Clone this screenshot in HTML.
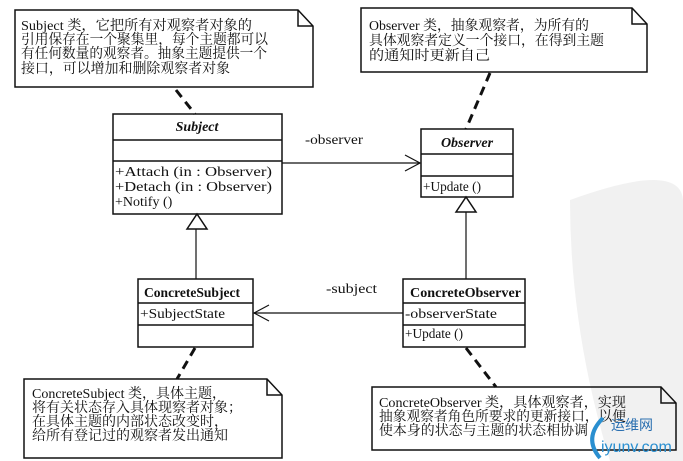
<!DOCTYPE html>
<html><head><meta charset="utf-8"><style>
html,body{margin:0;padding:0;background:#fff;}
svg{display:block;}
.cn{font-family:"Liberation Serif","Noto Serif CJK SC","Noto Sans CJK SC",serif;font-size:14px;fill:#111;}
.m{font-family:"Liberation Serif","Noto Serif CJK SC",serif;font-size:14px;fill:#111;}
.b{font-weight:bold;}
</style></head><body>
<svg width="683" height="461" viewBox="0 0 683 461" xmlns="http://www.w3.org/2000/svg">
<rect width="683" height="461" fill="#fff"/>
<path d="M570 200 Q680 160 683 200 L683 461 L610 461 Q570 330 570 200Z" fill="#f1f1f1"/>
<g fill="none" stroke="#111" stroke-width="1.5">
<path d="M15 10 H298 L313 26 V87 H15 Z"/><path d="M298 10 V26 H313"/>
<path d="M361 8 H632 L647 24 V72 H361 Z"/><path d="M632 8 V24 H647"/>
<rect x="113" y="114" width="169" height="100"/>
<line x1="113" y1="140" x2="282" y2="140"/><line x1="113" y1="161" x2="282" y2="161"/>
<rect x="421" y="129" width="92" height="68"/>
<line x1="421" y1="154" x2="513" y2="154"/><line x1="421" y1="176" x2="513" y2="176"/>
<rect x="138" y="279" width="115" height="68"/>
<line x1="138" y1="303" x2="253" y2="303"/><line x1="138" y1="325" x2="253" y2="325"/>
<rect x="403" y="279" width="122" height="68"/>
<line x1="403" y1="303" x2="525" y2="303"/><line x1="403" y1="325" x2="525" y2="325"/>
<path d="M24 379 H267 L282 395 V458 H24 Z"/><path d="M267 379 V395 H282"/>
<path d="M372 387 H661 L676 403 V450 H372 Z"/><path d="M661 387 V403 H676"/>
</g>
<g stroke="#111" stroke-width="1.2" fill="none">
<line x1="282" y1="163" x2="420" y2="163"/>
<path d="M405 155 L420 163 L405 171"/>
<line x1="403" y1="313" x2="254" y2="313"/>
<path d="M269 305 L254 313 L269 321"/>
<line x1="196" y1="229" x2="196" y2="279"/>
<line x1="466" y1="212" x2="466" y2="279"/>
<path d="M187 229 L197 214 L207 229 Z" fill="#fff" stroke-width="1.5"/>
<path d="M456 212 L466 197 L476 212 Z" fill="#fff" stroke-width="1.5"/>
</g>
<g stroke="#111" stroke-width="3" stroke-dasharray="9,6" fill="none">
<line x1="176" y1="90" x2="195" y2="114"/>
<line x1="490" y1="73" x2="466" y2="129"/>
<line x1="195" y1="348" x2="177" y2="379"/>
<line x1="466" y1="348" x2="496" y2="387"/>
</g>
<text class="cn" x="21" y="30" textLength="231" lengthAdjust="spacingAndGlyphs">Subject 类，它把所有对观察者对象的</text>
<text class="cn" x="21" y="44" textLength="247" lengthAdjust="spacingAndGlyphs">引用保存在一个聚集里，每个主题都可以</text>
<text class="cn" x="21" y="58" textLength="246" lengthAdjust="spacingAndGlyphs">有任何数量的观察者。抽象主题提供一个</text>
<text class="cn" x="21" y="73" textLength="209" lengthAdjust="spacingAndGlyphs">接口，可以增加和删除观察者对象</text>
<text class="cn" x="369" y="30" textLength="220" lengthAdjust="spacingAndGlyphs">Observer 类，抽象观察者，为所有的</text>
<text class="cn" x="369" y="45" textLength="235" lengthAdjust="spacingAndGlyphs">具体观察者定义一个接口，在得到主题</text>
<text class="cn" x="369" y="60" textLength="121" lengthAdjust="spacingAndGlyphs">的通知时更新自己</text>
<text class="m b" x="197" y="131" text-anchor="middle" font-style="italic">Subject</text>
<text class="m" x="115" y="176" textLength="157" lengthAdjust="spacingAndGlyphs">+Attach (in  : Observer)</text>
<text class="m" x="115" y="191" textLength="157" lengthAdjust="spacingAndGlyphs">+Detach (in  : Observer)</text>
<text class="m" x="115" y="206">+Notify ()</text>
<text class="m b" x="467" y="147" text-anchor="middle" font-style="italic">Observer</text>
<text class="m" x="423" y="191" textLength="58" lengthAdjust="spacingAndGlyphs">+Update ()</text>
<text class="m" x="305" y="144" textLength="58" lengthAdjust="spacingAndGlyphs">-observer</text>
<text class="m" x="326" y="293" textLength="51" lengthAdjust="spacingAndGlyphs">-subject</text>
<text class="m b" x="144" y="297" textLength="96" lengthAdjust="spacingAndGlyphs">ConcreteSubject</text>
<text class="m" x="140" y="318" textLength="85" lengthAdjust="spacingAndGlyphs">+SubjectState</text>
<text class="m b" x="410" y="297" textLength="111" lengthAdjust="spacingAndGlyphs">ConcreteObserver</text>
<text class="m" x="405" y="318" textLength="92" lengthAdjust="spacingAndGlyphs">-observerState</text>
<text class="m" x="405" y="338" textLength="58" lengthAdjust="spacingAndGlyphs">+Update ()</text>
<text class="cn" x="32" y="398">ConcreteSubject 类，具体主题，</text>
<text class="cn" x="32" y="412">将有关状态存入具体现察者对象；</text>
<text class="cn" x="32" y="426">在具体主题的内部状态改变时，</text>
<text class="cn" x="32" y="440">给所有登记过的观察者发出通知</text>
<text class="cn" x="379" y="407" textLength="247" lengthAdjust="spacingAndGlyphs">ConcreteObserver 类，具体观察者，实现</text>
<text class="cn" x="379" y="421" textLength="247" lengthAdjust="spacingAndGlyphs">抽象观察者角色所要求的更新接口，以便</text>
<text class="cn" x="379" y="435" textLength="209" lengthAdjust="spacingAndGlyphs">使本身的状态与主题的状态相协调</text>
<path d="M603 418 Q583 438 600 458" stroke="#2a8fd0" stroke-width="4" fill="none"/>
<text x="611" y="430" font-family="'Noto Sans CJK SC',sans-serif" font-size="14" fill="#2a6fb0">运维网</text>
<text x="601" y="452" font-family="'Liberation Sans',sans-serif" font-size="16" fill="#2a8fd0">iyunv.com</text>
</svg>
</body></html>
